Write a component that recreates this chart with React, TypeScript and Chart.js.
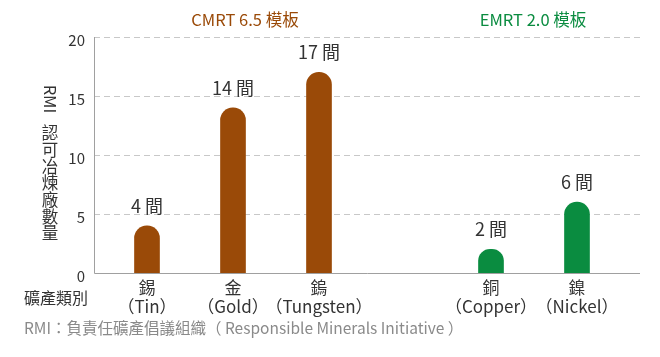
import React, { useEffect, useRef } from "react";
import { Chart, registerables } from "chart.js";

Chart.register(...registerables);

const categories: string[][] = [
  ["錫", "（Tin）"],
  ["金", "（Gold）"],
  ["鎢", "（Tungsten）"],
  [""],
  ["銅", "（Copper）"],
  ["鎳", "（Nickel）"],
];
const values: (number | null)[] = [4, 14, 17, null, 2, 6];
const groups = ["CMRT", "CMRT", "CMRT", "", "EMRT", "EMRT"];
const yTicks = [0, 5, 10, 15, 20];
const groupTitles = ["CMRT 6.5 模板", "EMRT 2.0 模板"];
const unit = "間";
const yTitleLatin = "RMI";
const yTitleCJK = "認可冶煉廠數量";
const xTitle = "礦產類別";
const footnote = "RMI：負責任礦產倡議組織（ Responsible Minerals Initiative ）";

const BROWN = "#9a4a08";
const GREEN = "#0a8c40";
const FONT = "'Noto Sans CJK TC', 'Noto Sans', sans-serif";
const FRAME_LEFT = 94;
const FRAME_RIGHT = 640;

export default function App() {
  const ref = useRef<HTMLCanvasElement>(null);
  useEffect(() => {
    document.body.style.margin = "0";
    const canvas = ref.current!;
    const framePlugin = {
      id: "frame",
      beforeDatasetsDraw(chart: any) {
        const ctx = chart.ctx as CanvasRenderingContext2D;
        const ys = chart.scales.y;
        ctx.save();
        ctx.lineWidth = 1;
        ctx.strokeStyle = "#c8c8c8";
        ctx.setLineDash([6, 4]);
        yTicks.forEach((v) => {
          if (v === 0) return;
          const y = Math.round(ys.getPixelForValue(v)) + 0.5;
          ctx.beginPath();
          ctx.moveTo(FRAME_LEFT, y);
          ctx.lineTo(FRAME_RIGHT, y);
          ctx.stroke();
        });
        ctx.setLineDash([]);
        ctx.strokeStyle = "#a0a0a0";
        const y0 = Math.round(ys.getPixelForValue(0)) + 0.5;
        const yTop = ys.getPixelForValue(20);
        ctx.beginPath();
        ctx.moveTo(FRAME_LEFT + 0.5, yTop);
        ctx.lineTo(FRAME_LEFT + 0.5, y0);
        ctx.lineTo(FRAME_RIGHT, y0);
        ctx.stroke();
        ctx.restore();
      },
    };
    const textPlugin = {
      id: "texts",
      afterDraw(chart: any) {
        const ctx = chart.ctx as CanvasRenderingContext2D;
        ctx.save();
        ctx.font = `16.5px ${FONT}`;
        ctx.textAlign = "center";
        ctx.textBaseline = "middle";
        ctx.fillStyle = BROWN;
        ctx.fillText(groupTitles[0], 245, 20);
        ctx.fillStyle = GREEN;
        ctx.fillText(groupTitles[1], 533, 20);
        const meta = chart.getDatasetMeta(0);
        const ys = chart.scales.y;
        ctx.font = `18px ${FONT}`;
        ctx.fillStyle = "#333";
        meta.data.forEach((bar: any, i: number) => {
          const v = values[i];
          if (v == null) return;
          ctx.fillText(`${v} ${unit}`, bar.x, ys.getPixelForValue(v) - 20);
        });
        ctx.font = `16.5px ${FONT}`;
        ctx.save();
        ctx.translate(50, 99);
        ctx.rotate(Math.PI / 2);
        ctx.fillText(yTitleLatin, 0, 0);
        ctx.restore();
        Array.from(yTitleCJK).forEach((ch, i) => {
          ctx.fillText(ch, 50, 133 + i * 16.7);
        });
        ctx.font = `16px ${FONT}`;
        ctx.textAlign = "left";
        ctx.fillText(xTitle, 24, 298);
        ctx.fillStyle = "#8a8a8a";
        ctx.font = `15.5px ${FONT}`;
        ctx.fillText(footnote, 24, 328);
        ctx.restore();
      },
    };
    const chart = new Chart(canvas, {
      type: "bar",
      data: {
        labels: categories,
        datasets: [
          {
            data: values,
            backgroundColor: groups.map((g) => (g === "EMRT" ? GREEN : BROWN)),
            barThickness: 25,
            borderRadius: { topLeft: 12.5, topRight: 12.5, bottomLeft: 0, bottomRight: 0 },
            borderSkipped: false,
          },
        ],
      },
      options: {
        responsive: false,
        animation: false,
        layout: { padding: { top: 37, right: 40, left: 0, bottom: 0 } },
        plugins: { legend: { display: false }, tooltip: { enabled: false } },
        scales: {
          x: {
            grid: { display: false, drawTicks: false },
            border: { display: false },
            ticks: {
              color: "#333",
              font: { family: FONT, size: 17, lineHeight: 1.12 },
              padding: 5,
              maxRotation: 0,
              autoSkip: false,
            },
            afterFit: (s: any) => {
              s.height = 84;
            },
          },
          y: {
            min: 0,
            max: 20,
            afterBuildTicks: (s: any) => {
              s.ticks = yTicks.map((v) => ({ value: v }));
            },
            grid: { display: false, drawTicks: false },
            border: { display: false },
            ticks: {
              color: "#333",
              font: { family: FONT, size: 15 },
              padding: 19,
              labelOffset: 3,
            },
            afterFit: (s: any) => {
              s.width = 104;
            },
          },
        },
      },
      plugins: [framePlugin, textPlugin],
    } as any);
    return () => chart.destroy();
  }, []);
  return (
    <div style={{ width: 660, height: 357, background: "#fff" }}>
      <canvas ref={ref} width={660} height={357} />
    </div>
  );
}
